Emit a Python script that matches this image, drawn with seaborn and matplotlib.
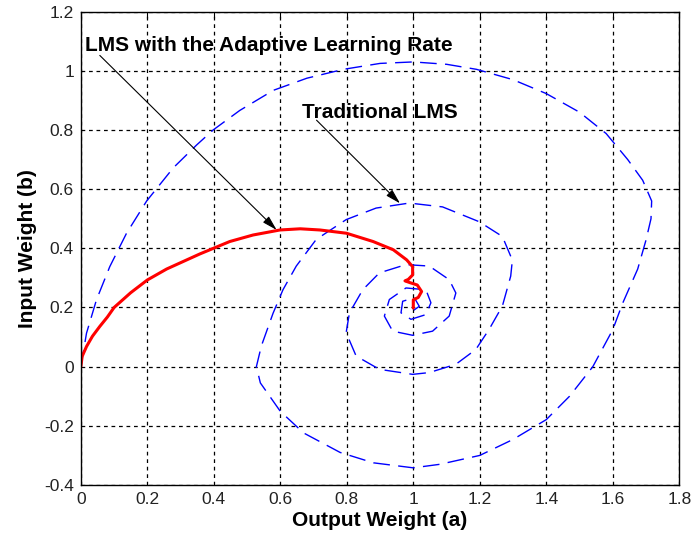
import matplotlib
matplotlib.use("Agg")
import matplotlib.pyplot as plt
import seaborn as sns
import pandas as pd

# Weight trajectory of the traditional LMS algorithm (a, b)
trad_a = [0.0, 0.017, 0.047, 0.087, 0.137, 0.198, 0.278, 0.348, 0.398, 0.478,
          0.579, 0.68, 0.79, 0.90, 1.0, 1.10, 1.19, 1.30, 1.40, 1.50,
          1.58, 1.645, 1.69, 1.717, 1.715, 1.70, 1.675, 1.63, 1.60, 1.54,
          1.47, 1.40, 1.30, 1.20, 1.08, 1.0, 0.88, 0.78, 0.67, 0.60,
          0.54, 0.528, 0.543, 0.578, 0.608, 0.648, 0.708, 0.798, 0.888, 0.988,
          1.088, 1.198, 1.268, 1.298, 1.293, 1.268, 1.228, 1.188, 1.128, 1.048,
          0.998, 0.898, 0.828, 0.798, 0.808, 0.848, 0.898, 0.978, 1.048, 1.108,
          1.128, 1.108, 1.058, 0.998, 0.938, 0.913, 0.928, 0.978, 1.038, 1.053,
          1.038, 0.993, 0.963, 0.968, 1.003, 1.018, 0.998, 0.99, 1.0]
trad_b = [0.0, 0.113, 0.226, 0.338, 0.45, 0.56, 0.672, 0.749, 0.80, 0.866,
          0.934, 0.975, 1.005, 1.025, 1.03, 1.022, 1.005, 0.97, 0.923, 0.86,
          0.788, 0.70, 0.63, 0.56, 0.50, 0.428, 0.33, 0.215, 0.125, 0.0,
          -0.10, -0.179, -0.246, -0.30, -0.33, -0.342, -0.325, -0.29, -0.224, -0.151,
          -0.055, 0.0, 0.07, 0.18, 0.26, 0.34, 0.43, 0.497, 0.536, 0.553,
          0.54, 0.49, 0.44, 0.36, 0.306, 0.205, 0.126, 0.058, 0.008, -0.02,
          -0.026, -0.009, 0.036, 0.115, 0.182, 0.26, 0.317, 0.345, 0.34, 0.294,
          0.249, 0.171, 0.12, 0.106, 0.12, 0.171, 0.227, 0.266, 0.26, 0.216,
          0.176, 0.16, 0.182, 0.221, 0.233, 0.204, 0.188, 0.2, 0.2]

# Weight trajectory of LMS with the adaptive learning rate (a, b)
adapt_a = [0.0, 0.004, 0.017, 0.035, 0.057, 0.08, 0.1, 0.15, 0.2, 0.258,
           0.358, 0.448, 0.518, 0.599, 0.66, 0.719, 0.799, 0.879, 0.94, 0.98,
           0.998, 0.998, 0.985, 0.975, 0.99, 1.012, 1.025, 1.015, 1.0, 1.0]
adapt_b = [0.0, 0.035, 0.068, 0.103, 0.136, 0.168, 0.2, 0.25, 0.293, 0.33,
           0.381, 0.423, 0.445, 0.462, 0.466, 0.462, 0.451, 0.423, 0.395, 0.361,
           0.338, 0.31, 0.295, 0.29, 0.284, 0.276, 0.254, 0.234, 0.226, 0.198]

x_ticks = [0, 0.2, 0.4, 0.6, 0.8, 1, 1.2, 1.4, 1.6, 1.8]
x_tick_labels = ["0", "0.2", "0.4", "0.6", "0.8", "1", "1.2", "1.4", "1.6", "1.8"]
y_ticks = [-0.4, -0.2, 0, 0.2, 0.4, 0.6, 0.8, 1, 1.2]
y_tick_labels = ["-0.4", "-0.2", "0", "0.2", "0.4", "0.6", "0.8", "1", "1.2"]

sns.set_style("white")
plt.rcParams["font.family"] = ["Liberation Sans", "DejaVu Sans"]
plt.rcParams["text.color"] = "black"
plt.rcParams["axes.labelcolor"] = "black"

trad = pd.DataFrame({"a": trad_a, "b": trad_b})
adapt = pd.DataFrame({"a": adapt_a, "b": adapt_b})

fig = plt.figure(figsize=(6.91, 5.41), dpi=100)
ax = fig.add_axes([0.117, 0.1035, 0.866, 0.875])

sns.lineplot(data=trad, x="a", y="b", sort=False, estimator=None, ax=ax,
             color="#0000ff", lw=1.0, dashes=False)
ax.lines[-1].set_dashes((12, 6))
sns.lineplot(data=adapt, x="a", y="b", sort=False, estimator=None, ax=ax,
             color="#ff0000", lw=2.2)

ax.set_xlim(0, 1.8)
ax.set_ylim(-0.4, 1.2)
ax.set_xticks(x_ticks)
ax.set_xticklabels(x_tick_labels)
ax.set_yticks(y_ticks)
ax.set_yticklabels(y_tick_labels)
ax.tick_params(direction="in", length=4, width=0.8, top=True, right=True,
               labelsize=12.5, labelcolor="#222222", colors="black", pad=5)
ax.grid(True, color="black", linestyle=(0, (3, 3)), linewidth=0.9)
ax.set_axisbelow(True)
for s in ax.spines.values():
    s.set_visible(True)
    s.set_color("black")
    s.set_linewidth(1.0)

ax.set_xlabel("Output Weight (a)", fontsize=15, fontweight="bold", labelpad=3)
ax.set_ylabel("Input Weight (b)", fontsize=15, fontweight="bold", labelpad=5)

arrow = dict(arrowstyle="-|>,head_length=0.9,head_width=0.25", color="black",
             lw=0.8, shrinkA=0, shrinkB=0)
ax.annotate("", xy=(0.589, 0.462), xytext=(0.057, 1.052), arrowprops=arrow)
ax.text(0.012, 1.086, "LMS with the Adaptive Learning Rate", fontsize=15,
        fontweight="bold", ha="left", va="center")
ax.annotate("", xy=(0.96, 0.552), xytext=(0.709, 0.833), arrowprops=arrow)
ax.text(0.665, 0.86, "Traditional LMS", fontsize=15, fontweight="bold",
        ha="left", va="center")

fig.savefig("out.png", dpi=100)
